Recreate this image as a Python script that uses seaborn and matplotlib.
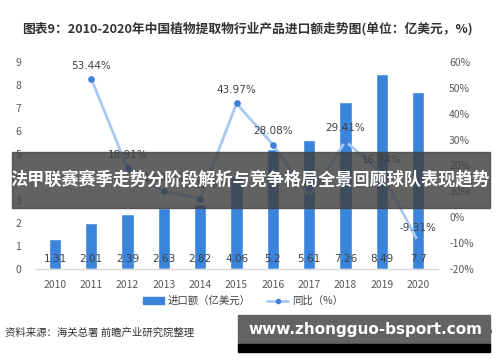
import numpy as np
import pandas as pd
import matplotlib

matplotlib.use("Agg")
import matplotlib.pyplot as plt
import seaborn as sns
from matplotlib.patches import Rectangle
from matplotlib.lines import Line2D

sns.set_theme(style="white")
plt.rcParams["font.family"] = ["Noto Sans CJK SC", "DejaVu Sans"]

# data
years = ["2010", "2011", "2012", "2013", "2014", "2015", "2016", "2017", "2018", "2019", "2020"]
imports = [1.31, 2.01, 2.39, 2.63, 2.82, 4.06, 5.2, 5.61, 7.26, 8.49, 7.7]
yoy_years = ["2011", "2012", "2013", "2014", "2015", "2016", "2017", "2018", "2019", "2020"]
yoy = [53.44, 18.91, 10.04, 7.22, 43.97, 28.08, 7.88, 29.41, 16.94, -9.31]

title = "图表9：2010-2020年中国植物提取物行业产品进口额走势图(单位：亿美元，%)"
source = "资料来源：海关总署 前瞻产业研究院整理"
credit = "@前瞻经济学人APP"
banner = "法甲联赛赛季走势分阶段解析与竞争格局全景回顾球队表现趋势"
site = "www.zhongguo-bsport.com"

bar_color = "#3b84dc"
line_color = "#a8c9f3"
dot_color = "#3f7fdc"
txt_color = "#404040"

df = pd.DataFrame({"year": years, "value": imports})
df_yoy = pd.DataFrame({"pos": [years.index(y) for y in yoy_years], "yoy": yoy})

fig = plt.figure(figsize=(5, 3.62), dpi=100)
ax = fig.add_axes([0.07, 0.257, 0.806, 0.572])

sns.barplot(data=df, x="year", y="value", color=bar_color, width=0.34,
            saturation=1, ax=ax)
ax.set_xlim(-0.55, 10.55)
ax.set_ylim(0, 9)
ax.set_yticks(range(0, 10))
ax.set_xlabel("")
ax.set_ylabel("")
for i, v in enumerate(imports):
    ax.text(i, 0.2, f"{v:g}", ha="center", va="bottom", fontsize=7.5,
            color=txt_color, family=["DejaVu Sans"])

ax2 = ax.twinx()
sns.lineplot(data=df_yoy, x="pos", y="yoy", color=line_color, linewidth=2,
             marker="o", markersize=4, markerfacecolor=dot_color,
             markeredgecolor=dot_color, ax=ax2)
ax2.set_ylim(-20, 60)
ax2.set_yticks(range(-20, 61, 10))
ax2.set_yticklabels([f"{t}%" for t in range(-20, 61, 10)])
ax2.set_xlabel("")
ax2.set_ylabel("")
for p, v in zip(df_yoy["pos"], yoy):
    ax2.annotate(f"{v:.2f}%", (p, v), xytext=(0, 6), textcoords="offset points",
                 ha="center", va="bottom", fontsize=7.5, color=txt_color,
                 family=["DejaVu Sans"])

for a in (ax, ax2):
    for s in a.spines.values():
        s.set_visible(False)
    a.tick_params(length=0, labelsize=7.5, labelcolor="#595959", pad=8)
ax.spines["bottom"].set_visible(True)
ax.spines["bottom"].set_color("#d9d9d9")
ax.spines["bottom"].set_linewidth(1)
ax.tick_params(axis="y", pad=10)

handles = [Rectangle((0, 0), 1, 1, color=bar_color),
           Line2D([0], [0], color=line_color, lw=2, marker="o", markersize=3,
                  markerfacecolor=dot_color, markeredgecolor=dot_color)]
fig.legend(handles, ["进口额（亿美元）", "同比（%）"], loc="center",
           bbox_to_anchor=(0.486, 0.168), ncol=2, frameon=False, fontsize=7.5,
           handlelength=2.0, handletextpad=0.4, columnspacing=1.6,
           labelcolor="#404040")

fig.text(0.044, 0.922, title, fontsize=9.2, fontweight="bold", color="#333333",
         va="center")
fig.text(0.01, 0.08, source, fontsize=7.5, color="#333333", va="center")
fig.text(0.985, 0.08, credit, fontsize=7.5, color="#333333", va="center", ha="right")

# overlay bands
fig.patches.append(Rectangle((0.024, 0.425), 0.956, 0.155, transform=fig.transFigure,
                             color=(0.25, 0.25, 0.25), alpha=0.82, zorder=10))
fig.text(0.5, 0.503, banner, fontsize=12.3, fontweight="bold", color="white",
         ha="center", va="center", zorder=11)
fig.patches.append(Rectangle((0.476, 0.047), 0.504, 0.083, transform=fig.transFigure,
                             color="#636363", zorder=10))
fig.patches.append(Rectangle((0.476, 0.027), 0.504, 0.022, transform=fig.transFigure,
                             color="black", zorder=10))
fig.text(0.73, 0.09, site, fontsize=11, fontweight="bold", color="white",
         ha="center", va="center", zorder=11, family=["DejaVu Sans"])

fig.savefig("out.png", dpi=100, facecolor="w")
plt.close()
